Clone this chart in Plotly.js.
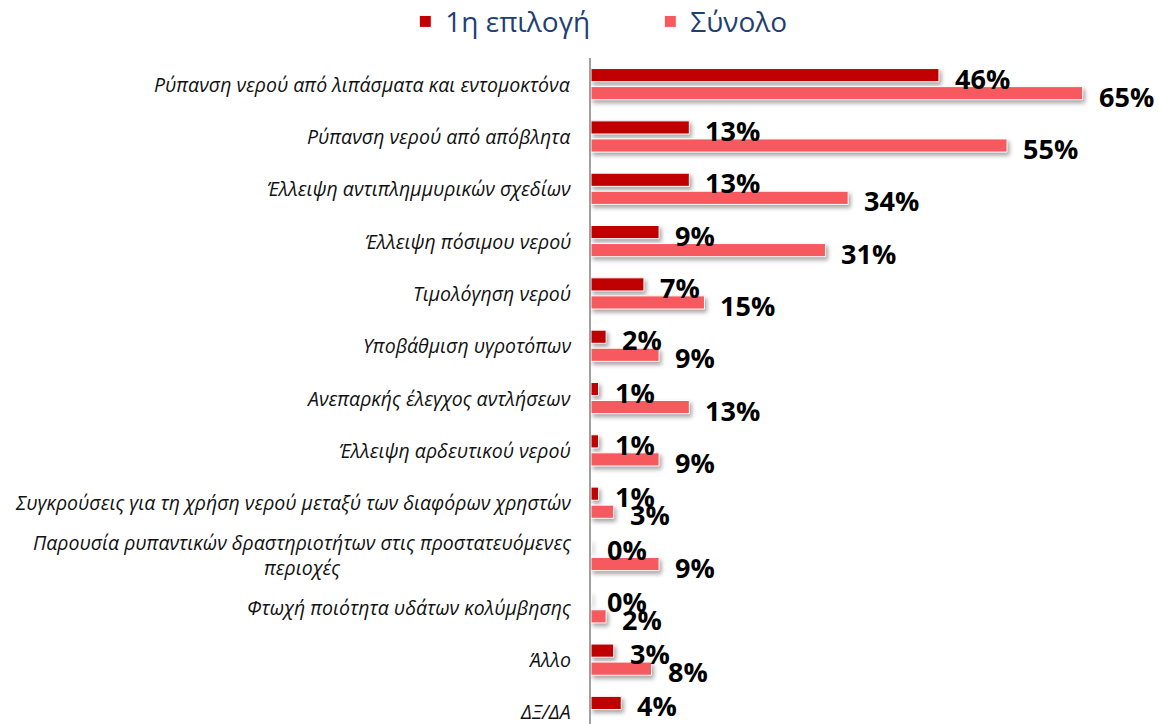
<!DOCTYPE html>
<html>
<head>
<meta charset="utf-8">
<script src="https://cdn.plot.ly/plotly-3.0.1.min.js"></script>
<style>
  html, body { margin: 0; padding: 0; background: #fff; }
  #chart { width: 1158px; height: 724px; }
  .barlayer { filter: drop-shadow(2px 3px 2px rgba(0,0,0,0.35)); }
</style>
</head>
<body>
<div id="chart"></div>
<script>
const categories = [
  "Ρύπανση νερού από λιπάσματα και εντομοκτόνα",
  "Ρύπανση νερού από απόβλητα",
  "Έλλειψη αντιπλημμυρικών σχεδίων",
  "Έλλειψη πόσιμου νερού",
  "Τιμολόγηση νερού",
  "Υποβάθμιση υγροτόπων",
  "Ανεπαρκής έλεγχος αντλήσεων",
  "Έλλειψη αρδευτικού νερού",
  "Συγκρούσεις για τη χρήση νερού μεταξύ των διαφόρων χρηστών",
  "Παρουσία ρυπαντικών δραστηριοτήτων στις προστατευόμενες<br>περιοχές",
  "Φτωχή ποιότητα υδάτων κολύμβησης",
  "Άλλο",
  "ΔΞ/ΔΑ"
];
const seriesNames = ["1η επιλογή", "Σύνολο"];
const firstChoice = [46, 13, 13, 9, 7, 2, 1, 1, 1, 0, 0, 3, 4];
const total = [65, 55, 34, 31, 15, 9, 13, 9, 3, 9, 2, 8, null];

const colors = ["#C00000", "#F75A5E"];
const seriesValues = [firstChoice, total];
const labelShift = [6, -12];

const traces = seriesValues.map((vals, k) => ({
  type: "bar",
  orientation: "h",
  name: seriesNames[k],
  y: categories,
  x: vals,
  marker: { color: colors[k], line: { color: "#ffffff", width: 1 } },
  hoverinfo: "skip"
}));

const annotations = [];
seriesValues.forEach((vals, k) => {
  vals.forEach((v, i) => {
    if (v === null) return;
    annotations.push({
      x: v, y: categories[i], xref: "x", yref: "y",
      text: v + "%", showarrow: false,
      xanchor: "left", yanchor: "middle",
      xshift: 14, yshift: labelShift[k],
      font: { family: "Open Sans", size: 27, color: "#000", weight: 700 }
    });
  });
});
categories.forEach((c, i) => {
  annotations.push({
    x: 0, y: c, xref: "x", yref: "y",
    text: c, showarrow: false,
    xanchor: "right", yanchor: "middle", align: "center",
    xshift: -18,
    font: { family: "Open Sans", size: 19.5, color: "#111", style: "italic" }
  });
});

const layout = {
  width: 1158, height: 724,
  margin: { l: 591, r: 8, t: 58, b: 0 },
  paper_bgcolor: "#fff", plot_bgcolor: "#fff",
  barmode: "group",
  bargap: 0.31,
  bargroupgap: 0.27,
  showlegend: true,
  legend: {
    orientation: "h",
    xref: "container", yref: "container",
    x: 0.35, xanchor: "left",
    y: 0.97, yanchor: "middle",
    font: { family: "Open Sans", size: 28, color: "#1F3F75" },
    entrywidth: 200, entrywidthmode: "pixels",
    itemclick: false
  },
  xaxis: {
    range: [0, 73.9],
    showgrid: false, zeroline: false, showline: false,
    showticklabels: false, ticks: ""
  },
  yaxis: {
    type: "category",
    range: [12.23, -0.5],
    showgrid: false, zeroline: false,
    showline: true, linecolor: "#A0A0A0", linewidth: 2,
    showticklabels: false, ticks: ""
  },
  annotations: annotations
};

Plotly.newPlot("chart", traces, layout, { displayModeBar: false, staticPlot: true });
</script>
</body>
</html>
